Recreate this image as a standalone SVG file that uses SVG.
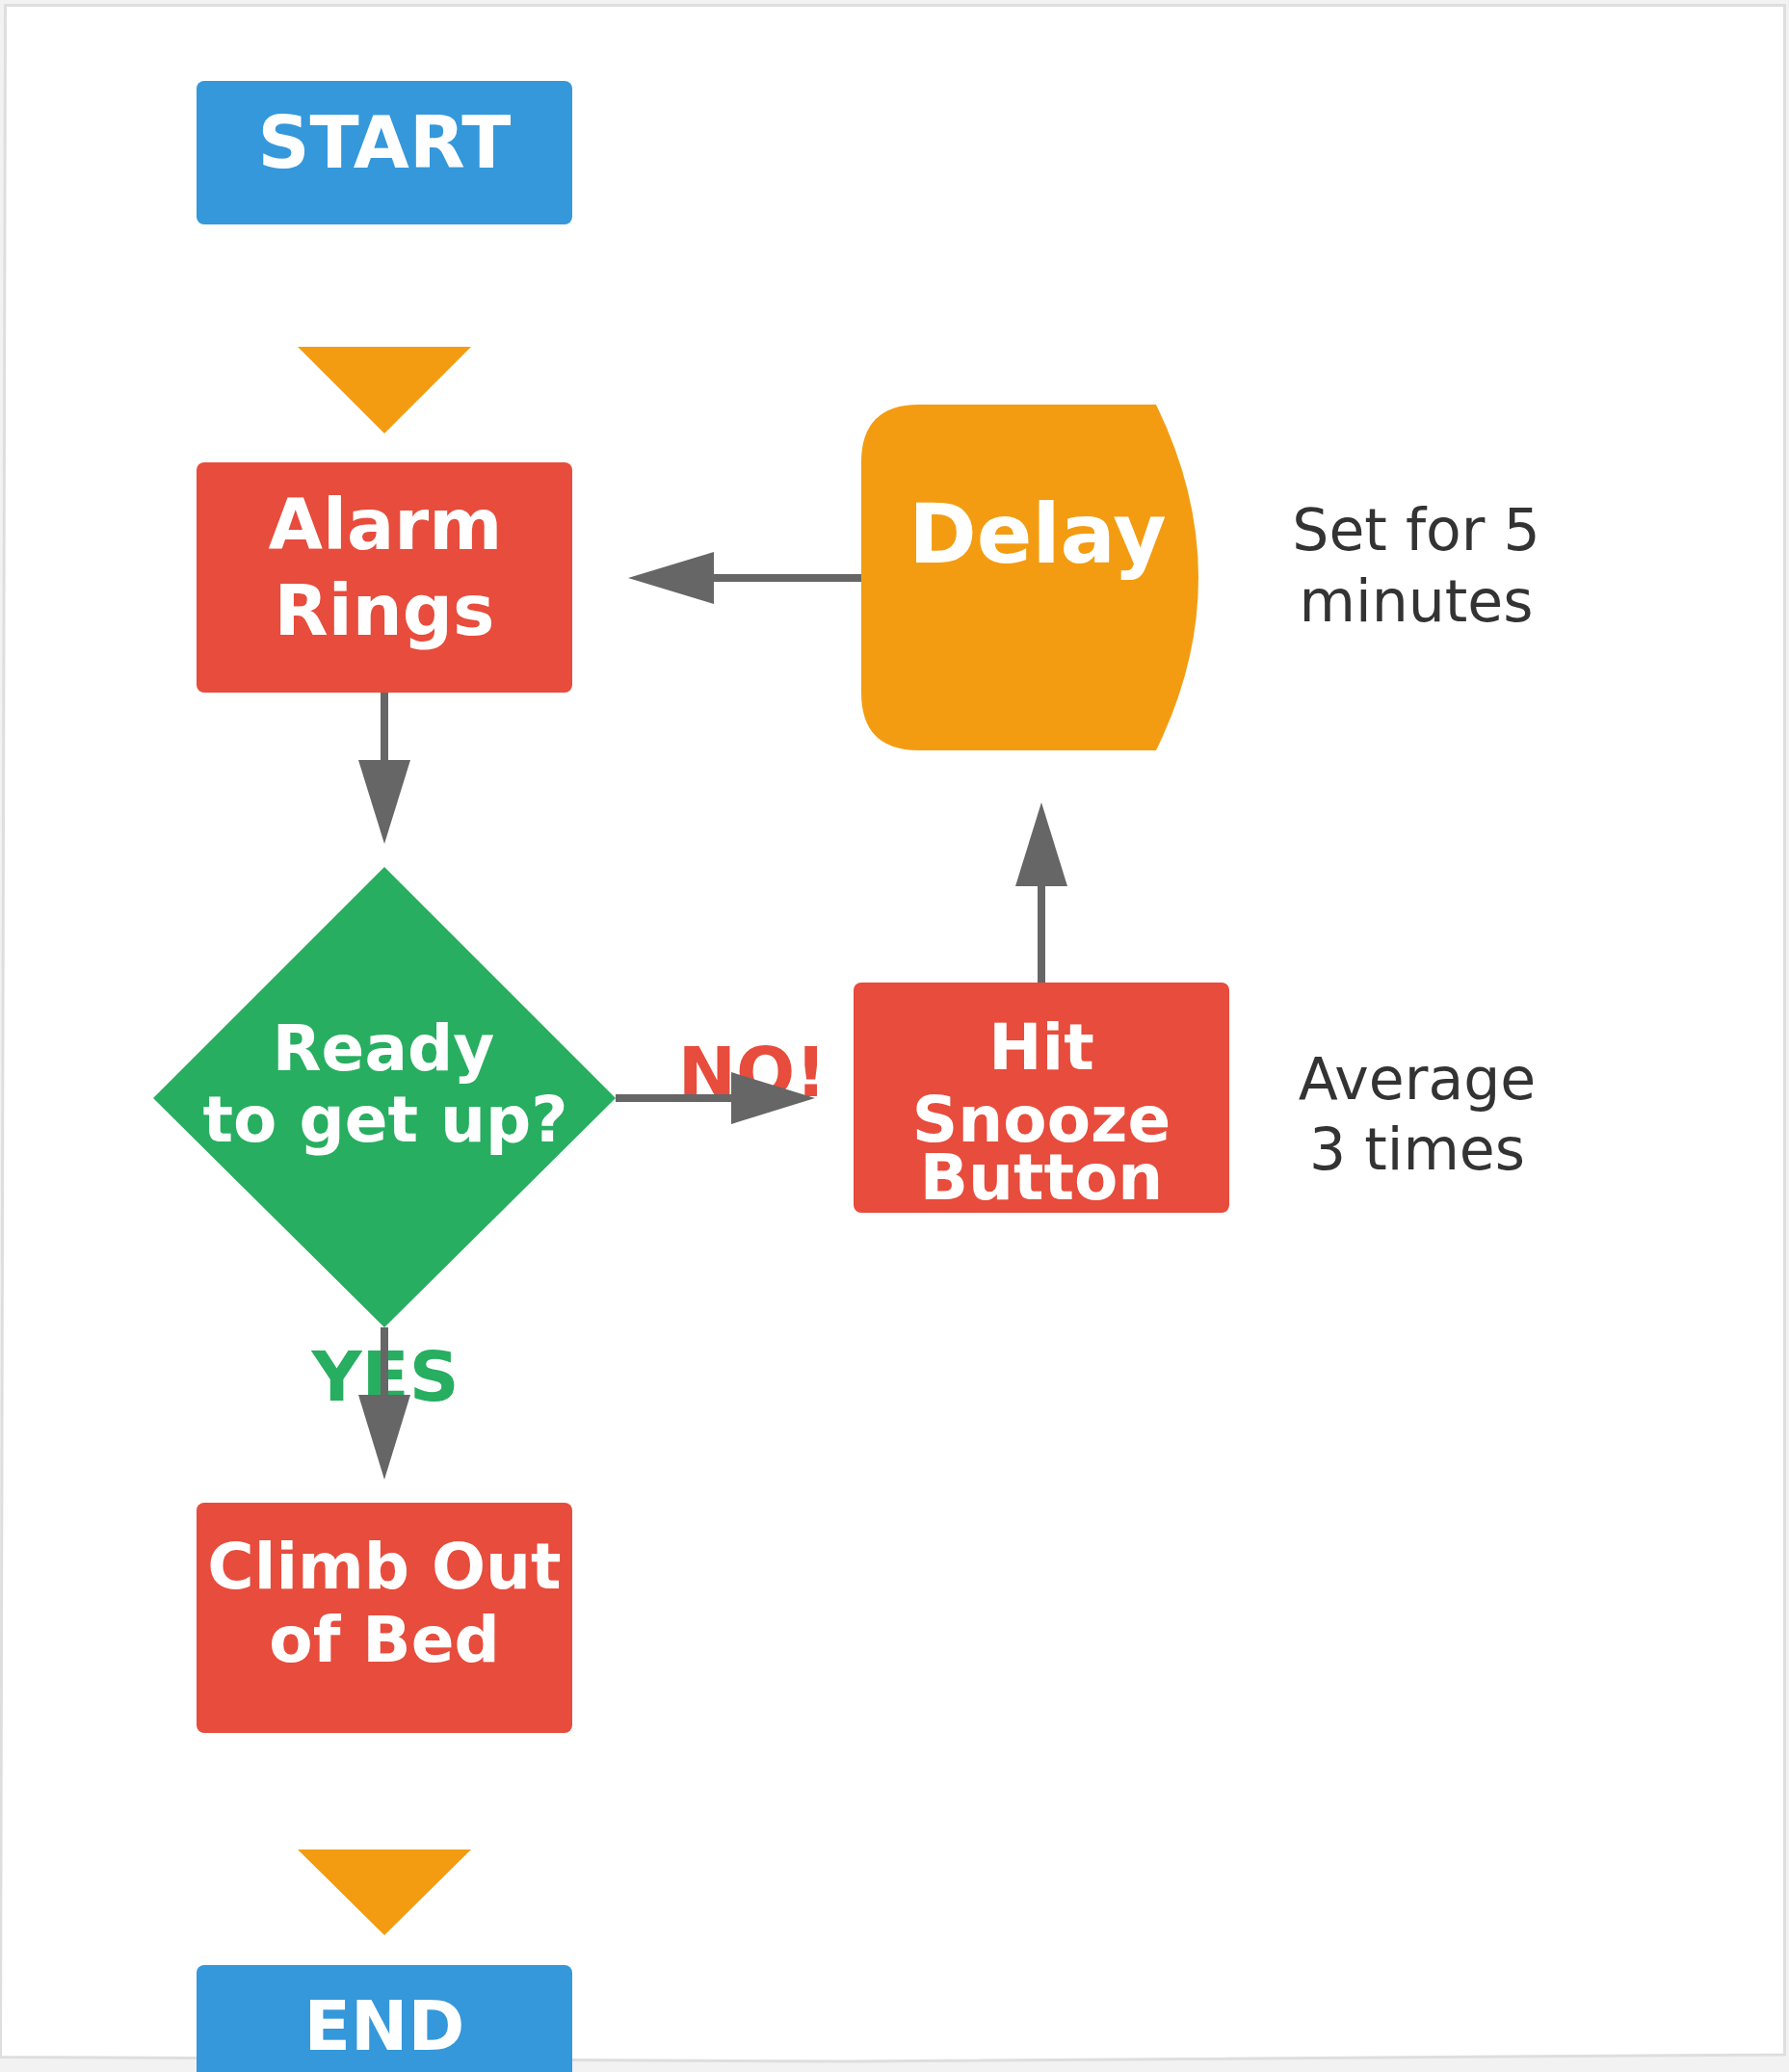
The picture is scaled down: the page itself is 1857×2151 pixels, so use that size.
<svg xmlns="http://www.w3.org/2000/svg" width="1857" height="2151" viewBox="0 0 1857 2151">
<style>
.bold{font-family:"DejaVu Sans","Liberation Sans",sans-serif;font-weight:bold;text-anchor:middle}
.reg{font-family:"DejaVu Sans","Liberation Sans",sans-serif;text-anchor:middle;fill:#333333;font-size:60px}
.w{fill:#ffffff}
.conn line{stroke:#666666;stroke-width:8}
.conn polygon{fill:#666666}
.red{fill:#e74c3c}
.blue{fill:#3498db}
.orange{fill:#f39c12}
.green{fill:#27ae60}
</style>
<rect x="0" y="0" width="1857" height="2151" fill="#f2f2f2"/>
<path d="M5.5,5.5 L1852.5,5.5 L1852.5,2133 L878,2140 L0.5,2135.5 Z" fill="#ffffff" stroke="#dedede" stroke-width="3"/>

<g id="notes">
<text class="reg" x="1470" y="571">Set for 5</text>
<text class="reg" x="1470" y="645">minutes</text>
<text class="reg" x="1471" y="1141">Average</text>
<text class="reg" x="1471" y="1214">3 times</text>
</g>

<g id="labels">
<text class="bold" x="781" y="1138" font-size="72" fill="#e74c3c">NO!</text>
<text class="bold" x="400" y="1454" font-size="72" fill="#27ae60">YES</text>
</g>

<g id="start">
<rect class="blue" x="204" y="84" width="390" height="149" rx="8"/>
<text class="bold w" x="399" y="174" font-size="75">START</text>
</g>

<g id="start-marker">
<polygon class="orange" points="309,360 489,360 399,450"/>
</g>

<g id="alarm">
<rect class="red" x="204" y="480" width="390" height="239" rx="8"/>
<text class="bold w" x="400" y="570" font-size="73">Alarm</text>
<text class="bold w" x="399" y="659" font-size="73">Rings</text>
</g>

<g id="delay">
<path class="orange" d="M954,420 L1200,420 Q1288,600 1200,779 L954,779 Q894,779 894,719 L894,480 Q894,420 954,420 Z"/>
<text class="bold w" x="1077" y="584" font-size="85">Delay</text>
</g>

<g id="decision">
<polygon class="green" points="399,900 639,1140 399,1378 159,1140"/>
<text class="bold w" x="398" y="1111" font-size="66">Ready</text>
<text class="bold w" x="400" y="1185" font-size="66">to get up?</text>
</g>

<g id="snooze">
<rect class="red" x="886" y="1020" width="390" height="239" rx="8"/>
<text class="bold w" x="1081" y="1110" font-size="66">Hit</text>
<text class="bold w" x="1081" y="1185" font-size="66">Snooze</text>
<text class="bold w" x="1081" y="1245" font-size="66">Button</text>
</g>

<g id="climb">
<rect class="red" x="204" y="1560" width="390" height="239" rx="8"/>
<text class="bold w" x="399" y="1649" font-size="66">Climb Out</text>
<text class="bold w" x="399" y="1725" font-size="66">of Bed</text>
</g>

<g id="end-marker">
<polygon class="orange" points="309,1920 489,1920 399,2009"/>
</g>

<g id="end">
<rect class="blue" x="204" y="2040" width="390" height="149" rx="8"/>
<text class="bold w" x="399" y="2128" font-size="71">END</text>
</g>

<g id="connectors" class="conn">
<line x1="399" y1="719" x2="399" y2="790"/>
<polygon points="372,789 426,789 399,876"/>
<line x1="639" y1="1140" x2="760" y2="1140"/>
<polygon points="759,1113 759,1167 846,1140"/>
<line x1="1081" y1="1020" x2="1081" y2="919"/>
<polygon points="1054,920 1108,920 1081,833"/>
<line x1="894" y1="600" x2="740" y2="600"/>
<polygon points="741,573 741,627 652,600"/>
<line x1="399" y1="1378" x2="399" y2="1449"/>
<polygon points="372,1448 426,1448 399,1536"/>
</g>
</svg>
